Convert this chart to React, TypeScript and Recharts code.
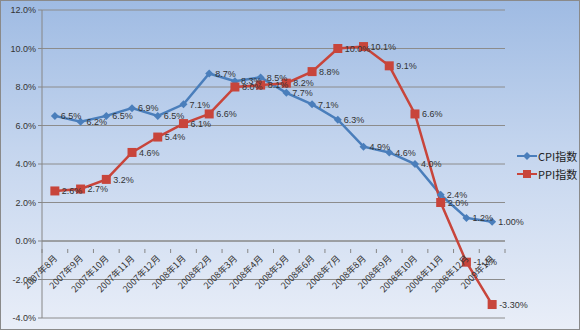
import { LineChart, Line, XAxis, YAxis, CartesianGrid, ReferenceLine, LabelList } from 'recharts';

const months = [
  '2007年8月', '2007年9月', '2007年10月', '2007年11月', '2007年12月', '2008年1月',
  '2008年2月', '2008年3月', '2008年4月', '2008年5月', '2008年6月', '2008年7月',
  '2008年8月', '2008年9月', '2008年10月', '2008年11月', '2008年12月', '2009年1月',
];
const cpi = [6.5, 6.2, 6.5, 6.9, 6.5, 7.1, 8.7, 8.3, 8.5, 7.7, 7.1, 6.3, 4.9, 4.6, 4.0, 2.4, 1.2, 1.0];
const ppi = [2.6, 2.7, 3.2, 4.6, 5.4, 6.1, 6.6, 8.0, 8.1, 8.2, 8.8, 10.0, 10.1, 9.1, 6.6, 2.0, -1.1, -3.3];
const yTicks = [-4, -2, 0, 2, 4, 6, 8, 10, 12];
const seriesNames = ['CPI指数', 'PPI指数'];

const W = 580;
const H = 330;
const M = { top: 10, right: 75, bottom: 11, left: 0 };
const Y_AXIS_W = 42;
const X_AXIS_H = 1;
const Y_MIN = -4;
const Y_MAX = 12;
const PLOT_H = H - M.top - M.bottom - X_AXIS_H;
const PLOT_W = W - M.left - M.right - Y_AXIS_W;
const BAND = PLOT_W / months.length;
const ZERO_UP = (PLOT_H * (0 - Y_MIN)) / (Y_MAX - Y_MIN);

const CPI_COLOR = '#4a7ebb';
const PPI_COLOR = '#c8453b';

const lastIdx = months.length - 1;
const data = months.map((m, i) => ({
  month: m,
  cpi: cpi[i],
  ppi: ppi[i],
  cpiLabel: i === lastIdx ? `${cpi[i].toFixed(2)}%` : `${cpi[i].toFixed(1)}%`,
  ppiLabel: i === lastIdx ? `${ppi[i].toFixed(2)}%` : `${ppi[i].toFixed(1)}%`,
}));

const numFont = '"Liberation Sans", Arial, sans-serif';
const cjkFont = '"Noto Sans CJK SC", "Liberation Sans", sans-serif';

const MonthTick = (props: any) => {
  const { x, y, payload } = props;
  const y0 = y - ZERO_UP;
  return (
    <g>
      <line x1={x - BAND / 2} x2={x - BAND / 2} y1={y0} y2={y0 + 4} stroke="#868686" />
      {payload.index === lastIdx && (
        <line x1={x + BAND / 2} x2={x + BAND / 2} y1={y0} y2={y0 + 4} stroke="#868686" />
      )}
      <text
        x={x + 3}
        y={y0 + 10}
        transform={`rotate(-45 ${x + 3} ${y0 + 10})`}
        textAnchor="end"
        fontSize={9}
        fontFamily={cjkFont}
        fill="#333"
      >
        {payload.value}
      </text>
    </g>
  );
};

const Diamond = (props: any) => {
  const { cx, cy } = props;
  if (cx == null || cy == null) return null;
  return <path d={`M${cx},${cy - 4}L${cx + 4},${cy}L${cx},${cy + 4}L${cx - 4},${cy}Z`} fill={CPI_COLOR} />;
};

const Square = (props: any) => {
  const { cx, cy } = props;
  if (cx == null || cy == null) return null;
  return <rect x={cx - 4.5} y={cy - 4.5} width={9} height={9} fill={PPI_COLOR} />;
};

const LegendBox = () => (
  <div style={{ position: 'absolute', left: 516, top: 146, fontFamily: cjkFont, fontSize: 11, color: '#222' }}>
    {[
      { name: seriesNames[0], color: CPI_COLOR, shape: 'diamond' },
      { name: seriesNames[1], color: PPI_COLOR, shape: 'square' },
    ].map((it) => (
      <div key={it.name} style={{ display: 'flex', alignItems: 'center', height: 18 }}>
        <svg width={20} height={10}>
          <line x1={0} x2={20} y1={5} y2={5} stroke={it.color} strokeWidth={2} />
          {it.shape === 'diamond' ? (
            <path d="M10,1L14,5L10,9L6,5Z" fill={it.color} />
          ) : (
            <rect x={6} y={1} width={8} height={8} fill={it.color} />
          )}
        </svg>
        <span style={{ marginLeft: 1 }}>{it.name}</span>
      </div>
    ))}
  </div>
);

export default function App() {
  return (
    <div
      style={{
        position: 'absolute',
        left: 0,
        top: 0,
        width: W,
        height: H,
        boxSizing: 'border-box',
        border: '1px solid #8a8a8a',
        background: 'linear-gradient(to bottom, #9fbbe3 0%, #c4d5ee 45%, #e9eef8 100%)',
      }}
    >
      <div style={{ position: 'absolute', left: -1, top: -1 }}>
        <LineChart width={W} height={H} data={data} margin={M}>
          <CartesianGrid vertical={false} stroke="#8c8c8c" strokeWidth={1} />
          <XAxis
            dataKey="month"
            height={X_AXIS_H}
            axisLine={false}
            tickLine={false}
            tick={<MonthTick />}
            interval={0}
            padding={{ left: BAND / 2, right: BAND / 2 }}
          />
          <YAxis
            width={Y_AXIS_W}
            domain={[Y_MIN, Y_MAX]}
            ticks={yTicks}
            allowDataOverflow
            axisLine={{ stroke: '#868686' }}
            tickLine={{ stroke: '#868686' }}
            tickSize={4}
            tickFormatter={(v: number) => `${v.toFixed(1)}%`}
            tick={{ fontSize: 9, fill: '#333', fontFamily: numFont }}
          />
          <ReferenceLine y={0} stroke="#868686" />
          <Line
            dataKey="cpi"
            name={seriesNames[0]}
            stroke={CPI_COLOR}
            strokeWidth={2.5}
            dot={<Diamond />}
            isAnimationActive={false}
          >
            <LabelList dataKey="cpiLabel" position="right" offset={6} fontSize={9} fill="#333" fontFamily={numFont} />
          </Line>
          <Line
            dataKey="ppi"
            name={seriesNames[1]}
            stroke={PPI_COLOR}
            strokeWidth={2.5}
            dot={<Square />}
            isAnimationActive={false}
          >
            <LabelList dataKey="ppiLabel" position="right" offset={7} fontSize={9} fill="#333" fontFamily={numFont} />
          </Line>
        </LineChart>
      </div>
      <LegendBox />
    </div>
  );
}
